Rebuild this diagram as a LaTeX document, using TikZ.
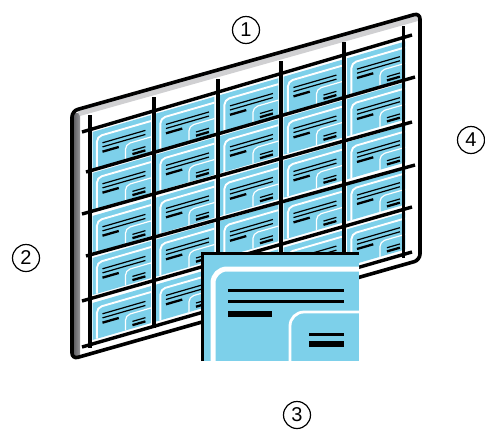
\documentclass[tikz,border=0pt]{standalone}
\usepackage{fontspec}
\setmainfont{Liberation Sans}
\definecolor{cardblue}{RGB}{125,208,234}
\definecolor{topgrey}{RGB}{208,208,210}
\definecolor{sidedark}{RGB}{88,88,92}
\definecolor{sidelight}{RGB}{150,150,154}
\tikzset{
  num/.style={circle,draw=black,line width=1.2pt,minimum size=27pt,inner sep=0pt,font=\fontsize{20}{20}\selectfont},
  grid line/.style={line width=3.4pt,black},
  frame line/.style={line width=3.6pt,black,rounded corners=6pt},
}
\newcommand{\cardbody}[5]{% height, white main, white small, radius main, radius small
  \fill[cardblue] (0,0) rectangle (158,#1);
  \draw[white,line width=#2pt,rounded corners=#4] (12,#1) -- (12,16) -- (158,16);
  \draw[white,line width=#3pt,rounded corners=#5] (89,#1) -- (89,59) -- (158,59);
}
\newcommand{\cardlines}[2]{% thin, thick
  \draw[black,line width=#1pt] (27,37) -- (143,37);
  \draw[black,line width=#1pt] (27,48) -- (143,48);
  \draw[black,line width=#2pt] (27,61) -- (71,61);
  \draw[black,line width=#1pt] (108,81) -- (143,81);
  \draw[black,line width=#2pt] (108,91) -- (143,91);
}
\begin{document}
\begin{tikzpicture}[x=1pt,y=-1pt]
\useasboundingbox (0,0) rectangle (485,429);
\fill[left color=sidedark,right color=sidelight] (73,113) rectangle (80,356);
\fill[topgrey] (76,109) -- (414,14) -- (418,17) -- (418,21) -- (80,116) -- cycle;
\foreach \tx/\ty in {92.5/132,156/113.6,220/95.1,283.5/76.7,347/58.3,
  92.5/173,156/154.6,220/136.1,283.5/117.7,347/99.3,
  92.5/216,156/197.6,220/179.1,283.5/160.7,347/142.3,
  92.5/258,156/239.6,220/221.1,283.5/202.7,347/184.3,
  92.5/303,156/284.6,220/266.1,283.5/247.7,347/229.3}{
  \begin{scope}[cm={0.37,0.107,0,0.37,(\tx,\ty)}]
    \cardbody{100}{1.9}{1.2}{5pt}{5pt}
    \cardlines{1.2}{2.3}
  \end{scope}
}
\coordinate (tl) at (72,111);
\coordinate (tr) at (420,13);
\coordinate (br) at (420,260);
\coordinate (bl) at (72,359);
\draw[frame line] (tl) -- (tr) -- (br) -- (bl) -- cycle;
\foreach \a/\b/\c/\d in {82/132/412/35, 86/172/415/77, 82/214/412/122, 86/256/415/165, 82/301/412/207, 82/347/412/252}{
  \draw[grid line] (\a,\b) -- (\c,\d);
}
\foreach \x/\a/\b in {90/115/348, 154/97/328, 218/79/310, 281/61/292, 344/42/274, 403.5/26/258}{
  \draw[grid line] (\x,\a) -- (\x,\b);
}
\begin{scope}[shift={(201,253)}]
  \cardbody{108}{5}{2.8}{14pt}{14pt}
  \cardlines{3}{5.6}
  \draw[black,line width=3.4pt] (1.2,108) -- (1.2,0.7) -- (158,0.7);
\end{scope}
\node[num] (n1) at (246,30) {1};
\node[num] (n2) at (26,258) {2};
\node[num] (n3) at (297,415) {3};
\node[num] (n4) at (471,140) {4};
\end{tikzpicture}
\end{document}
